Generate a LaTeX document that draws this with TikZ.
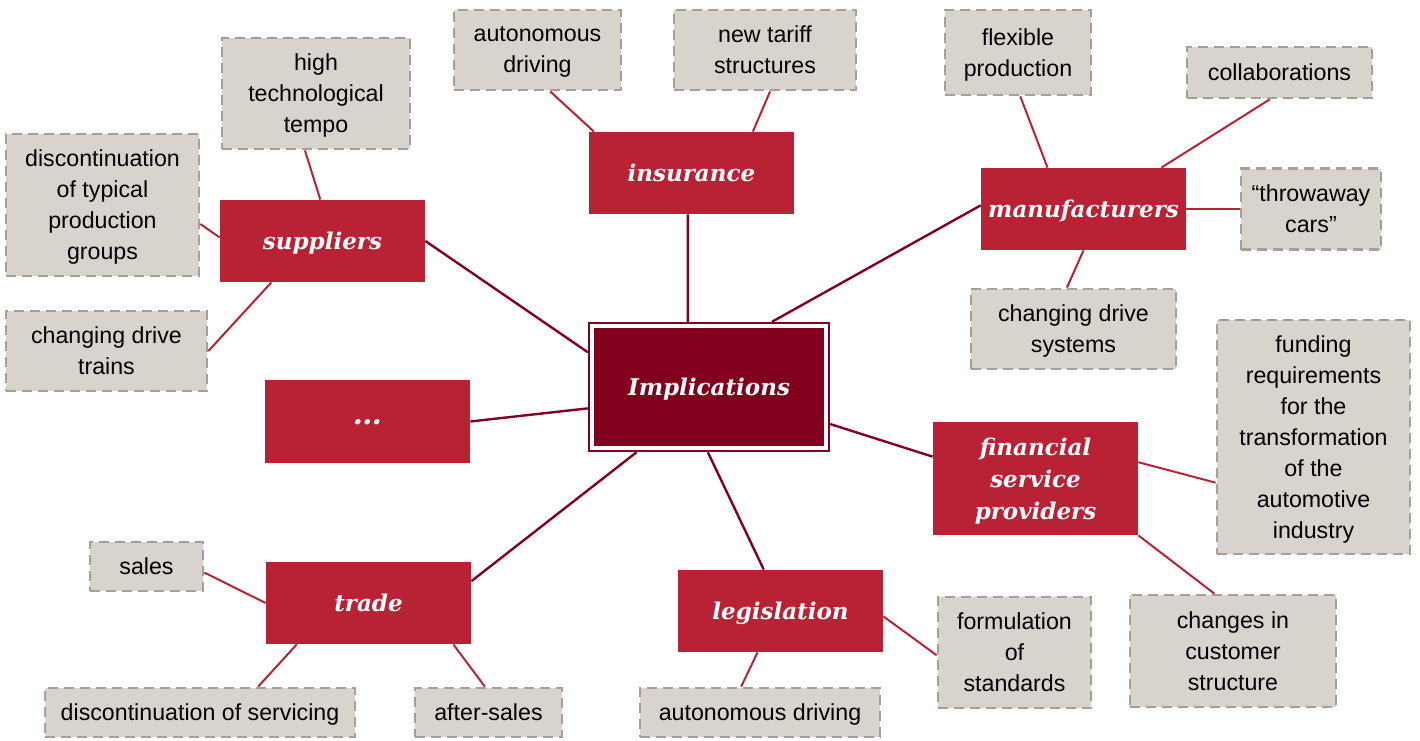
\documentclass[tikz,border=0pt]{standalone}
\usepackage{fontspec}
\setmainfont{Liberation Sans}
\newfontfamily\topicfont{DejaVu Serif}
\usepackage{xcolor}
\usepackage{tikz}
\usetikzlibrary{positioning}

\definecolor{hubred}{HTML}{82001E}
\definecolor{topicred}{HTML}{B82234}
\definecolor{notegray}{HTML}{D9D3CE}
\definecolor{dashgray}{HTML}{A89E96}

\tikzset{
  hub/.style = {fill=hubred, draw=hubred, double=white, double distance=2.3pt,
    line width=1pt, minimum width=117pt, minimum height=61pt,
    inner sep=0pt, outer sep=2.1pt, text=white, text depth=0pt,
    font=\topicfont\bfseries\itshape\fontsize{11.5}{16}\selectfont},
  topic/.style = {fill=topicred, minimum width=102.5pt, minimum height=41pt,
    inner sep=0pt, text=white, align=center, text depth=0pt,
    font=\topicfont\bfseries\itshape\fontsize{11.5}{16}\selectfont},
  note/.style = {fill=notegray, draw=dashgray, line width=1.4pt,
    dash pattern=on 5pt off 3pt, inner sep=0pt, align=center, text depth=0pt,
    font=\fontsize{11.6}{15.5}\selectfont},
  spoke/.style = {draw=hubred, line width=1.2pt},
  twig/.style = {draw=topicred, line width=1pt}
}

\begin{document}
\begin{tikzpicture} [on grid]
    \useasboundingbox (-354.5pt,-176.5pt) rectangle (355.5pt,193.5pt);

    % centre and topics
    \node (imp) [hub] {Implications};
    \node (ins) [topic, above left = 107pt and 8.75pt of imp] {insurance};
    \node (sup) [topic, above left = 73pt and 193.25pt of imp] {suppliers};
    \node (man) [topic, above right = 89pt and 187.25pt of imp] {manufacturers};
    \node (dots) [topic, minimum height=41.5pt, below left = 17.25pt and 170.75pt of imp]
        {\fontsize{14.5}{16}\selectfont\raisebox{-1pt}{…}};
    \node (fin) [topic, minimum height=56.5pt, below right = 45.75pt and 163.25pt of imp]
        {financial\\service\\providers};
    \node (tra) [topic, below left = 108pt and 170.25pt of imp] {trade};
    \node (leg) [topic, below right = 112pt and 35.75pt of imp] {legislation};

    % notes
    \node (autoT) [note, minimum width=83.5pt, minimum height=40pt,
        above left = 61.5pt and 77pt of ins] {autonomous\\driving};
    \node (tariff) [note, minimum width=91pt, minimum height=40pt,
        above right = 61.5pt and 36.75pt of ins] {new tariff\\structures};
    \node (tempo) [note, minimum width=94pt, minimum height=55.5pt,
        above left = 73.75pt and 3.25pt of sup] {high\\technological\\tempo};
    \node (discgrp) [note, minimum width=96.5pt, minimum height=71pt,
        above left = 18pt and 110pt of sup] {discontinuation\\of typical\\production\\groups};
    \node (trains) [note, minimum width=100.5pt, minimum height=40pt,
        below left = 55pt and 108pt of sup] {changing drive\\trains};
    \node (flex) [note, minimum width=73pt, minimum height=42.5pt,
        above left = 78.25pt and 32.75pt of man] {flexible\\production};
    \node (collab) [note, minimum width=92.5pt, minimum height=25.5pt,
        above right = 68.25pt and 98pt of man] {collaborations};
    \node (throw) [note, minimum width=70pt, minimum height=40.5pt,
        right = 113.75pt of man] {“throwaway\\cars”};
    \node (dsys) [note, minimum width=102.5pt, minimum height=40pt,
        below left = 60pt and 5pt of man] {changing drive\\systems};
    \node (fund) [note, minimum width=96.5pt, minimum height=117pt,
        above right = 20.75pt and 139pt of fin]
        {funding\\requirements\\for the\\transformation\\of the\\automotive\\industry};
    \node (cust) [note, minimum width=103pt, minimum height=56pt,
        below right = 86.25pt and 98.75pt of fin] {changes in\\customer\\structure};
    \node (sales) [note, minimum width=56.5pt, minimum height=24.5pt,
        above left = 18.25pt and 111pt of tra] {sales};
    \node (serv) [note, minimum width=155pt, minimum height=24.5pt,
        below left = 54.75pt and 84.25pt of tra] {discontinuation of servicing};
    \node (after) [note, minimum width=73.5pt, minimum height=24.5pt,
        below right = 54.75pt and 60pt of tra] {after-sales};
    \node (stand) [note, minimum width=76.5pt, minimum height=55.5pt,
        below right = 20.75pt and 117pt of leg] {formulation\\of\\standards};
    \node (autoB) [note, minimum width=120pt, minimum height=24.5pt,
        below left = 50.75pt and 10.25pt of leg] {autonomous driving};

    \path [spoke]
        (imp.108) edge (ins.265) (imp.164) edge (sup.east)
        (imp.46) edge (man.178) (imp.190) edge (dots.east)
        (imp.343) edge (fin.168) (imp.222.5) edge (tra.12)
        (imp.269) edge (leg.112);

    \path [twig]
        (ins.157) edge (autoT.287) (ins.34) edge (tariff.277)
        (sup.93.5) edge (tempo.259) (sup.178.3) edge (discgrp.349)
        (sup.219) edge (trains.east)
        (man.131) edge (flex.273) (man.28) edge (collab.250)
        (man.east) edge (throw.west) (man.south) edge (dsys.99)
        (fin.9) edge (fund.205) (fin.south east) edge (cust.108)
        (tra.west) edge (sales.354) (tra.210) edge (serv.24)
        (tra.334) edge (after.98)
        (leg.357) edge (stand.182) (leg.241) edge (autoB.126);
\end{tikzpicture}
\end{document}
